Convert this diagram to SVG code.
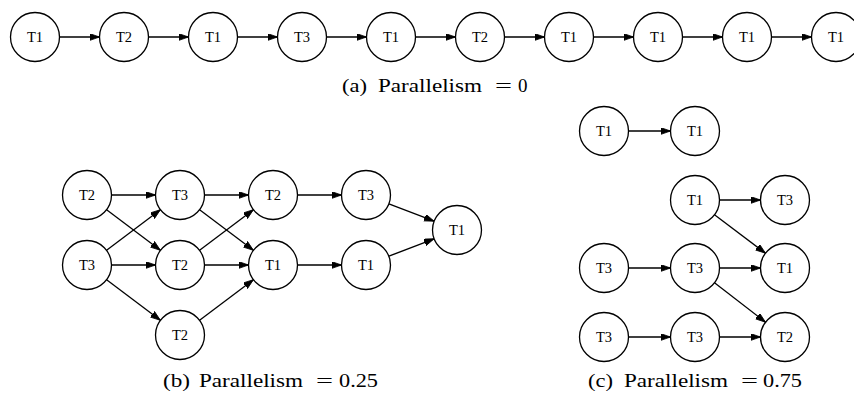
<svg xmlns="http://www.w3.org/2000/svg" width="854" height="394" viewBox="0 0 854 394">
<style>
.n circle{fill:#fff;stroke:#000;stroke-width:1.3}
.n text{font-family:"Liberation Serif","Times New Roman",serif;font-size:14.5px;text-anchor:middle;fill:#000}
.e line{stroke:#000;stroke-width:1.3;marker-end:url(#ah)}
.cap text{font-family:"Liberation Serif","Times New Roman",serif;font-size:19px;fill:#000}
</style>
<defs>
<marker id="ah" markerUnits="userSpaceOnUse" markerWidth="11" markerHeight="8" refX="10" refY="3.5" orient="auto" viewBox="0 0 11 8">
<path d="M0,0 L10,3.5 L0,7 z" fill="#000" stroke="#000" stroke-width="0.8"/>
</marker>
</defs>
<rect width="854" height="394" fill="#fff"/>
<g id="connectors" class="e">
<line x1="59.5" y1="37" x2="99.5" y2="37"/>
<line x1="148.5" y1="37" x2="188.5" y2="37"/>
<line x1="237.5" y1="37" x2="277.5" y2="37"/>
<line x1="326.5" y1="37" x2="366.5" y2="37"/>
<line x1="415.5" y1="37" x2="455.5" y2="37"/>
<line x1="504.5" y1="37" x2="544.5" y2="37"/>
<line x1="593.5" y1="37" x2="633.5" y2="37"/>
<line x1="682.5" y1="37" x2="722.5" y2="37"/>
<line x1="771.5" y1="37" x2="811.5" y2="37"/>
<line x1="111.5" y1="195" x2="155.5" y2="195"/>
<line x1="106.6" y1="209.7" x2="160.4" y2="250.3"/>
<line x1="106.6" y1="250.3" x2="160.4" y2="209.7"/>
<line x1="111.5" y1="265" x2="155.5" y2="265"/>
<line x1="106.6" y1="279.7" x2="160.4" y2="320.3"/>
<line x1="204.5" y1="195" x2="248.5" y2="195"/>
<line x1="199.6" y1="209.7" x2="253.4" y2="250.3"/>
<line x1="199.6" y1="250.3" x2="253.4" y2="209.7"/>
<line x1="204.5" y1="265" x2="248.5" y2="265"/>
<line x1="199.6" y1="320.3" x2="253.4" y2="279.7"/>
<line x1="297.5" y1="195" x2="341.5" y2="195"/>
<line x1="297.5" y1="265" x2="341.5" y2="265"/>
<line x1="388.9" y1="203.8" x2="434.1" y2="221.2"/>
<line x1="388.9" y1="256.2" x2="434.1" y2="238.8"/>
<line x1="628.5" y1="131" x2="670.5" y2="131"/>
<line x1="719.5" y1="200" x2="760.5" y2="200"/>
<line x1="714.5" y1="214.8" x2="765.5" y2="253.2"/>
<line x1="628.5" y1="268" x2="670.5" y2="268"/>
<line x1="719.5" y1="268" x2="760.5" y2="268"/>
<line x1="714.5" y1="282.8" x2="765.5" y2="322.2"/>
<line x1="628.5" y1="337" x2="670.5" y2="337"/>
<line x1="719.5" y1="337" x2="760.5" y2="337"/>
</g>
<g id="a1" class="n"><circle cx="35" cy="37" r="24.5"/><text x="35" y="42">T1</text></g>
<g id="a2" class="n"><circle cx="124" cy="37" r="24.5"/><text x="124" y="42">T2</text></g>
<g id="a3" class="n"><circle cx="213" cy="37" r="24.5"/><text x="213" y="42">T1</text></g>
<g id="a4" class="n"><circle cx="302" cy="37" r="24.5"/><text x="302" y="42">T3</text></g>
<g id="a5" class="n"><circle cx="391" cy="37" r="24.5"/><text x="391" y="42">T1</text></g>
<g id="a6" class="n"><circle cx="480" cy="37" r="24.5"/><text x="480" y="42">T2</text></g>
<g id="a7" class="n"><circle cx="569" cy="37" r="24.5"/><text x="569" y="42">T1</text></g>
<g id="a8" class="n"><circle cx="658" cy="37" r="24.5"/><text x="658" y="42">T1</text></g>
<g id="a9" class="n"><circle cx="747" cy="37" r="24.5"/><text x="747" y="42">T1</text></g>
<g id="a10" class="n"><circle cx="836" cy="37" r="24.5"/><text x="836" y="42">T1</text></g>
<g id="bA" class="n"><circle cx="87" cy="195" r="24.5"/><text x="87" y="200">T2</text></g>
<g id="bB" class="n"><circle cx="87" cy="265" r="24.5"/><text x="87" y="270">T3</text></g>
<g id="bC" class="n"><circle cx="180" cy="195" r="24.5"/><text x="180" y="200">T3</text></g>
<g id="bD" class="n"><circle cx="180" cy="265" r="24.5"/><text x="180" y="270">T2</text></g>
<g id="bE" class="n"><circle cx="180" cy="335" r="24.5"/><text x="180" y="340">T2</text></g>
<g id="bF" class="n"><circle cx="273" cy="195" r="24.5"/><text x="273" y="200">T2</text></g>
<g id="bG" class="n"><circle cx="273" cy="265" r="24.5"/><text x="273" y="270">T1</text></g>
<g id="bH" class="n"><circle cx="366" cy="195" r="24.5"/><text x="366" y="200">T3</text></g>
<g id="bI" class="n"><circle cx="366" cy="265" r="24.5"/><text x="366" y="270">T1</text></g>
<g id="bJ" class="n"><circle cx="457" cy="230" r="24.5"/><text x="457" y="235">T1</text></g>
<g id="cP" class="n"><circle cx="604" cy="131" r="24.5"/><text x="604" y="136">T1</text></g>
<g id="cQ" class="n"><circle cx="695" cy="131" r="24.5"/><text x="695" y="136">T1</text></g>
<g id="cR" class="n"><circle cx="695" cy="200" r="24.5"/><text x="695" y="205">T1</text></g>
<g id="cS" class="n"><circle cx="785" cy="200" r="24.5"/><text x="785" y="205">T3</text></g>
<g id="cU" class="n"><circle cx="604" cy="268" r="24.5"/><text x="604" y="273">T3</text></g>
<g id="cV" class="n"><circle cx="695" cy="268" r="24.5"/><text x="695" y="273">T3</text></g>
<g id="cW" class="n"><circle cx="785" cy="268" r="24.5"/><text x="785" y="273">T1</text></g>
<g id="cX" class="n"><circle cx="604" cy="337" r="24.5"/><text x="604" y="342">T3</text></g>
<g id="cY" class="n"><circle cx="695" cy="337" r="24.5"/><text x="695" y="342">T3</text></g>
<g id="cZ" class="n"><circle cx="785" cy="337" r="24.5"/><text x="785" y="342">T2</text></g>
<g id="caption-a" class="cap">
<text x="342" y="92" textLength="25" lengthAdjust="spacingAndGlyphs">(a)</text>
<text x="378" y="92" textLength="104" lengthAdjust="spacingAndGlyphs">Parallelism</text>
<text x="495" y="92" textLength="17" lengthAdjust="spacingAndGlyphs">=</text>
<text x="518" y="92">0</text>
</g>
<g id="caption-b" class="cap">
<text x="163" y="387" textLength="27" lengthAdjust="spacingAndGlyphs">(b)</text>
<text x="199" y="387" textLength="104" lengthAdjust="spacingAndGlyphs">Parallelism</text>
<text x="316" y="387" textLength="17" lengthAdjust="spacingAndGlyphs">=</text>
<text x="339" y="387" textLength="39" lengthAdjust="spacingAndGlyphs">0.25</text>
</g>
<g id="caption-c" class="cap">
<text x="588" y="387" textLength="25" lengthAdjust="spacingAndGlyphs">(c)</text>
<text x="624" y="387" textLength="104" lengthAdjust="spacingAndGlyphs">Parallelism</text>
<text x="741" y="387" textLength="17" lengthAdjust="spacingAndGlyphs">=</text>
<text x="763" y="387" textLength="39" lengthAdjust="spacingAndGlyphs">0.75</text>
</g>
</svg>
